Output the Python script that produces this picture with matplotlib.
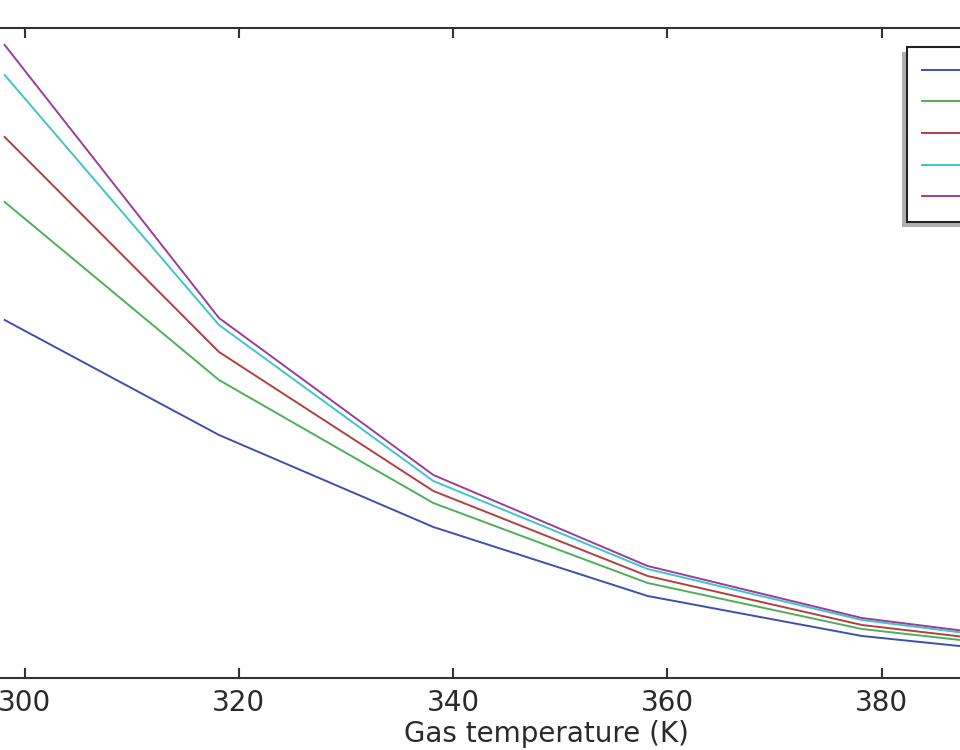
import matplotlib
matplotlib.use("Agg")
import matplotlib.pyplot as plt
from matplotlib.patches import Rectangle
from matplotlib.transforms import IdentityTransform

plt.rcParams['font.family'] = ['DejaVu Sans']

# Gas temperature (K)
temperature = [298.15, 318.15, 338.15, 358.15, 378.15, 398.15]

# Series values (arbitrary units, y-axis labels are outside the visible crop)
series_labels = ["          "] * 5   # legend texts lie outside the visible crop
series_values = [
    [7.16, 4.86, 3.02, 1.64, 0.84, 0.40],   # blue
    [9.52, 5.96, 3.50, 1.90, 0.98, 0.50],   # green
    [10.82, 6.52, 3.74, 2.04, 1.06, 0.56],  # red
    [12.06, 7.06, 3.94, 2.18, 1.16, 0.62],  # cyan
    [12.66, 7.20, 4.06, 2.24, 1.20, 0.66],  # magenta
]
series_colors = ["#3f4fae", "#4fae5a", "#b2403f", "#3fc6c6", "#9b3d9b"]

x_ticks = [300, 320, 340, 360, 380]
x_label = "Gas temperature (K)"

W, H = 960, 750
fig = plt.figure(figsize=(W / 100, H / 100), dpi=100)
fig.patch.set_facecolor("white")

# axes extend past the left and right edges of the picture (cropped view)
px_per_k = (881.8 - 24.5) / 80.0
x0, x1 = 297.5, 400.0
left_px = 24.5 - (300 - x0) * px_per_k
right_px = 24.5 + (x1 - 300) * px_per_k
top_px, bottom_px = 28, 678
ax = fig.add_axes([left_px / W, 1 - bottom_px / H,
                   (right_px - left_px) / W, (bottom_px - top_px) / H])

for vals, col, lab in zip(series_values, series_colors, series_labels):
    ax.plot(temperature, vals, color=col, lw=1.4, label=lab)

ax.set_xlim(x0, x1)
ax.set_ylim(0, 13)
ax.set_xticks(x_ticks)
ax.set_xticklabels([str(t) for t in x_ticks])
ax.set_yticks([])
ax.tick_params(axis='x', direction='in', length=7, width=1.5, top=True,
               bottom=True, labelsize=20, pad=8, colors="#333333",
               labelcolor="#2a2a2a")
for s in ax.spines.values():
    s.set_color("#333333")
    s.set_linewidth(1.5)
ax.set_xlabel(x_label, fontsize=20, color="#2a2a2a", labelpad=2)

leg = ax.legend(loc="upper left", bbox_to_anchor=(907 / W, 1 - 47 / H),
                bbox_transform=fig.transFigure, borderaxespad=0,
                fontsize=14, labelspacing=0.65, borderpad=0.75,
                handlelength=3.0, fancybox=False, frameon=True,
                edgecolor="#222222", framealpha=1.0)
leg.get_frame().set_linewidth(1.5)
leg.set_zorder(10)

fig.canvas.draw()
bb = leg.get_window_extent()
shadow = Rectangle((bb.x0 - 5, bb.y0 - 5), bb.width, bb.height,
                   transform=IdentityTransform(), facecolor="#b0b0b0",
                   edgecolor="none", zorder=9, clip_on=False)
ax.add_patch(shadow)

fig.savefig("out.png", dpi=100)
